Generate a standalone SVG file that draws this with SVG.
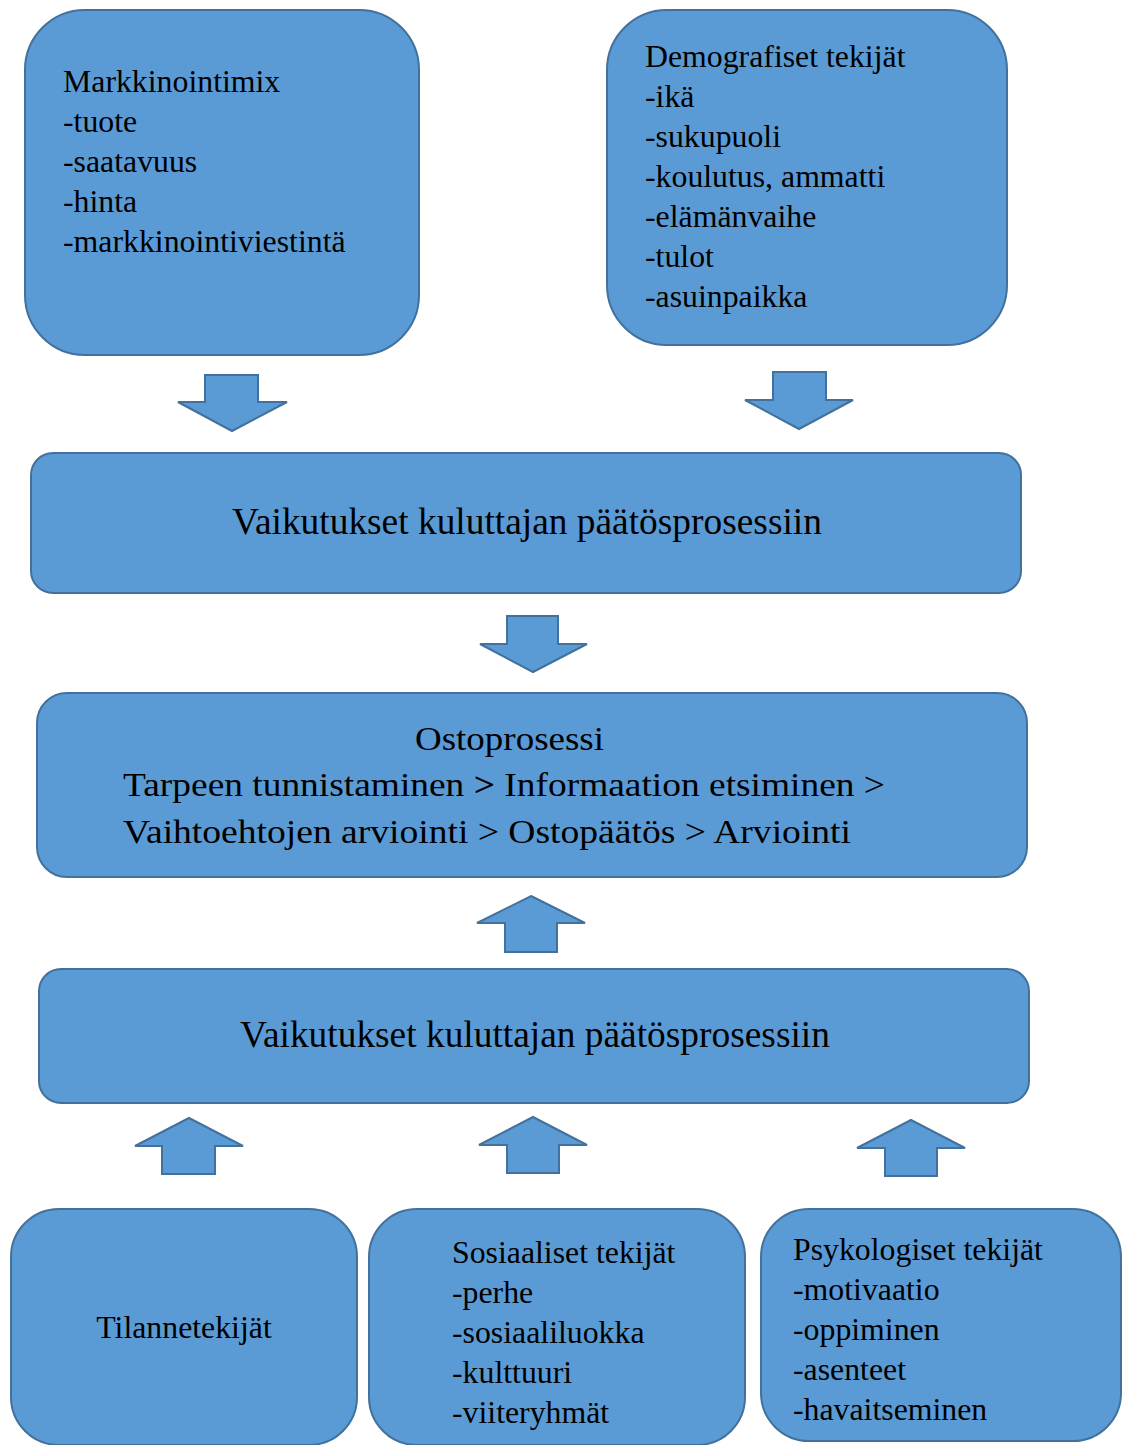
<svg xmlns="http://www.w3.org/2000/svg" width="1128" height="1445" viewBox="0 0 1128 1445">
<style>
.box{fill:#5B9BD5;stroke:#41719C;stroke-width:2}
.arr{fill:#5B9BD5;stroke:#41719C;stroke-width:2;stroke-linejoin:miter}
text{font-family:"Liberation Serif","Times New Roman",serif;fill:#000}
.t{font-size:31.8px}
.b{font-size:37.4px}
.o{font-size:34px}
</style>
<rect width="1128" height="1445" fill="#fff"/>
<g id="connectors">
<polygon class="arr" points="205,375 258,375 258,402 287,402 232,431 178,402 205,402"/>
<polygon class="arr" points="773,372 826,372 826,400 853,400 799,429 745,400 773,400"/>
<polygon class="arr" points="507,616 558,616 558,644 587,644 533,672 480,644 507,644"/>
<polygon class="arr" points="531,896 585,923 557,923 557,952 505,952 505,923 477,923"/>
<polygon class="arr" points="189,1118 243,1146 215,1146 215,1174 162,1174 162,1146 135,1146"/>
<polygon class="arr" points="533,1117 587,1145 559,1145 559,1173 507,1173 507,1145 479,1145"/>
<polygon class="arr" points="911,1120 965,1148 937,1148 937,1176 885,1176 885,1148 857,1148"/>
</g>
<g id="markkinointimix">
<rect class="box" x="25" y="10" width="394" height="345" rx="60"/>
<text class="t" x="63" y="92">Markkinointimix</text>
<text class="t" x="63" y="132">-tuote</text>
<text class="t" x="63" y="172">-saatavuus</text>
<text class="t" x="63" y="212">-hinta</text>
<text class="t" x="63" y="252">-markkinointiviestintä</text>
</g>
<g id="demografiset">
<rect class="box" x="607" y="10" width="400" height="335" rx="60"/>
<text class="t" x="645" y="67">Demografiset tekijät</text>
<text class="t" x="645" y="107">-ikä</text>
<text class="t" x="645" y="147">-sukupuoli</text>
<text class="t" x="645" y="187">-koulutus, ammatti</text>
<text class="t" x="645" y="227">-elämänvaihe</text>
<text class="t" x="645" y="267">-tulot</text>
<text class="t" x="645" y="307">-asuinpaikka</text>
</g>
<g id="vaikutukset1">
<rect class="box" x="31" y="453" width="990" height="140" rx="22"/>
<text class="b" x="527" y="534" text-anchor="middle">Vaikutukset kuluttajan päätösprosessiin</text>
</g>
<g id="ostoprosessi">
<rect class="box" x="37" y="693" width="990" height="184" rx="30"/>
<text class="o" x="415" y="750" textLength="189" lengthAdjust="spacingAndGlyphs">Ostoprosessi</text>
<text class="o" x="123" y="796" textLength="762" lengthAdjust="spacingAndGlyphs">Tarpeen tunnistaminen <tspan font-weight="bold">&gt;</tspan> Informaation etsiminen &gt;</text>
<text class="o" x="123" y="843" textLength="728" lengthAdjust="spacingAndGlyphs">Vaihtoehtojen arviointi &gt; Ostopäätös &gt; Arviointi</text>
</g>
<g id="vaikutukset2">
<rect class="box" x="39" y="969" width="990" height="134" rx="22"/>
<text class="b" x="535" y="1047" text-anchor="middle">Vaikutukset kuluttajan päätösprosessiin</text>
</g>
<g id="tilannetekijat">
<rect class="box" x="11" y="1209" width="346" height="236" rx="48"/>
<text class="t" x="184" y="1338" text-anchor="middle">Tilannetekijät</text>
</g>
<g id="sosiaaliset">
<rect class="box" x="369" y="1209" width="376" height="236" rx="48"/>
<text class="t" x="452" y="1263">Sosiaaliset tekijät</text>
<text class="t" x="452" y="1303">-perhe</text>
<text class="t" x="452" y="1343">-sosiaaliluokka</text>
<text class="t" x="452" y="1383">-kulttuuri</text>
<text class="t" x="452" y="1423">-viiteryhmät</text>
</g>
<g id="psykologiset">
<rect class="box" x="761" y="1209" width="360" height="232" rx="48"/>
<text class="t" x="793" y="1260">Psykologiset tekijät</text>
<text class="t" x="793" y="1300">-motivaatio</text>
<text class="t" x="793" y="1340">-oppiminen</text>
<text class="t" x="793" y="1380">-asenteet</text>
<text class="t" x="793" y="1420">-havaitseminen</text>
</g>
</svg>
